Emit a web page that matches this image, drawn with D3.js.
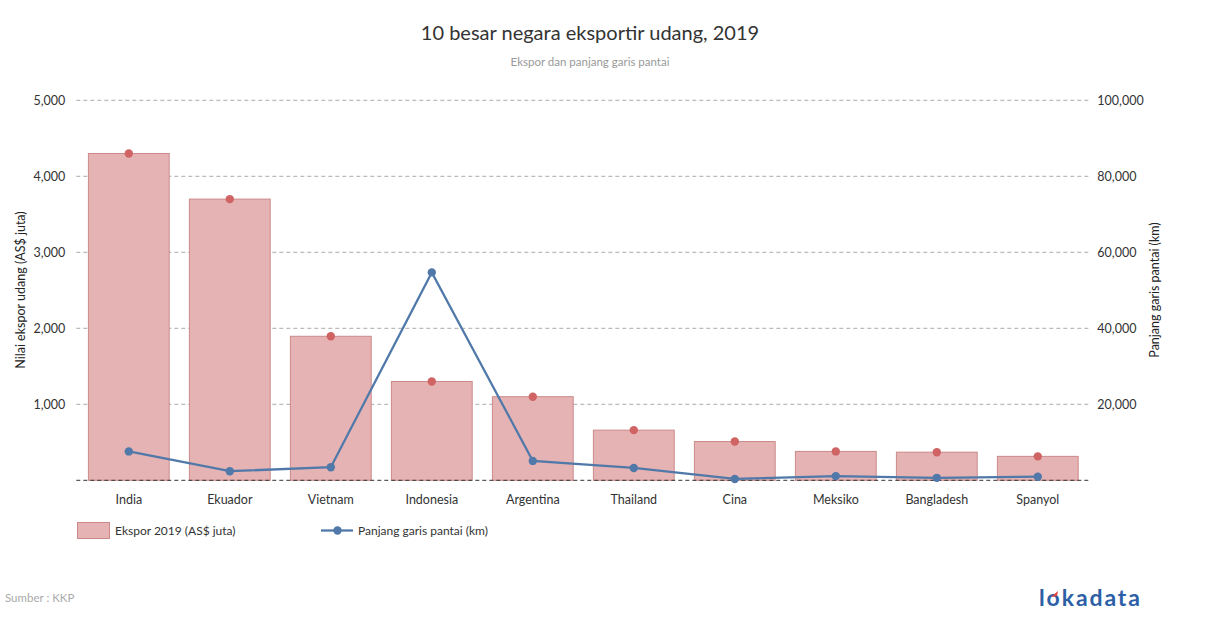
<!DOCTYPE html>
<html>
<head>
<meta charset="utf-8">
<script src="https://cdn.jsdelivr.net/npm/d3@7"></script>
<style>
  html, body { margin: 0; padding: 0; background: #fff; }
  svg { display: block; font-family: Lato, "Open Sans", sans-serif; }
</style>
</head>
<body>
<svg id="chart" width="1210" height="628"></svg>
<script>
const categories = ["India", "Ekuador", "Vietnam", "Indonesia", "Argentina", "Thailand", "Cina", "Meksiko", "Bangladesh", "Spanyol"];
const exportValues = [4300, 3700, 1895, 1300, 1100, 660, 510, 380, 370, 315];
const coastlineKm = [7600, 2400, 3444, 54716, 5100, 3250, 350, 1100, 650, 950];
const leftTicks = [1000, 2000, 3000, 4000, 5000];
const rightTicks = [20000, 40000, 60000, 80000, 100000];

const svg = d3.select("#chart");
const plot = { left: 78.3, right: 1088.3, top: 100.3, bottom: 480.3 };

const x = d3.scaleBand().domain(categories).range([plot.left, plot.right]).paddingInner(0.2).paddingOuter(0.1);
const yL = d3.scaleLinear().domain([0, 5000]).range([plot.bottom, plot.top]);
const yR = d3.scaleLinear().domain([0, 100000]).range([plot.bottom, plot.top]);
const fmt = d3.format(",");

// Title
svg.append("text").attr("x", 590).attr("y", 40).attr("text-anchor", "middle")
  .attr("font-size", 20).attr("fill", "#333").text("10 besar negara eksportir udang, 2019");
svg.append("text").attr("x", 590).attr("y", 66).attr("text-anchor", "middle")
  .attr("font-size", 11.5).attr("fill", "#999").text("Ekspor dan panjang garis pantai");

// Gridlines
const grid = svg.append("g");
leftTicks.forEach(t => {
  grid.append("line").attr("x1", plot.left - 2).attr("x2", plot.right)
    .attr("y1", yL(t)).attr("y2", yL(t))
    .attr("stroke", "#aaa").attr("stroke-width", 1).attr("stroke-dasharray", "4,3");
});

// Left axis
const axL = svg.append("g").attr("transform", `translate(${plot.left - 13},0)`)
  .call(d3.axisLeft(yL).tickValues(leftTicks).tickFormat(fmt).tickSize(0).tickPadding(0));
axL.select(".domain").remove();
axL.selectAll("text").attr("font-size", 12.5).attr("fill", "#333").attr("font-family", "Lato");

// Right axis
const axR = svg.append("g").attr("transform", `translate(${plot.right + 9},0)`)
  .call(d3.axisRight(yR).tickValues(rightTicks).tickFormat(fmt).tickSize(0).tickPadding(0));
axR.select(".domain").remove();
axR.selectAll("text").attr("font-size", 12.5).attr("fill", "#333").attr("font-family", "Lato");

// Axis titles
svg.append("text").attr("transform", `translate(25,290) rotate(-90)`).attr("text-anchor", "middle")
  .attr("font-size", 12.5).attr("fill", "#222").text("Nilai ekspor udang (AS$ juta)");
svg.append("text").attr("transform", `translate(1159,290) rotate(-90)`).attr("text-anchor", "middle")
  .attr("font-size", 12.5).attr("fill", "#222").text("Panjang garis pantai (km)");

// Bars
svg.append("g").selectAll("rect").data(categories).join("rect")
  .attr("x", d => x(d)).attr("width", x.bandwidth())
  .attr("y", (d, i) => yL(exportValues[i])).attr("height", (d, i) => plot.bottom - yL(exportValues[i]))
  .attr("fill", "#e5b3b3").attr("stroke", "#cb8989").attr("stroke-width", 1);

// Baseline
svg.append("line").attr("x1", plot.left - 2).attr("x2", plot.right).attr("y1", plot.bottom).attr("y2", plot.bottom)
  .attr("stroke", "#333").attr("stroke-width", 1).attr("stroke-dasharray", "4,3");

// X labels
const axX = svg.append("g").attr("transform", `translate(0,${plot.bottom + 15})`)
  .call(d3.axisBottom(x).tickSize(0).tickPadding(0));
axX.select(".domain").remove();
axX.selectAll("text").attr("font-size", 12.5).attr("fill", "#333").attr("font-family", "Lato");

// Red export markers
svg.append("g").selectAll("circle").data(categories).join("circle")
  .attr("cx", d => x(d) + x.bandwidth() / 2).attr("cy", (d, i) => yL(exportValues[i]))
  .attr("r", 4.2).attr("fill", "#d06363");

// Coastline line
const line = d3.line().x(d => x(d) + x.bandwidth() / 2).y((d, i) => yR(coastlineKm[i]));
svg.append("path").datum(categories).attr("d", line)
  .attr("fill", "none").attr("stroke", "#5079a9").attr("stroke-width", 2.3);
svg.append("g").selectAll("circle").data(categories).join("circle")
  .attr("cx", d => x(d) + x.bandwidth() / 2).attr("cy", (d, i) => yR(coastlineKm[i]))
  .attr("r", 4.2).attr("fill", "#5079a9");

// Legend
svg.append("rect").attr("x", 77.5).attr("y", 522.5).attr("width", 32).attr("height", 16)
  .attr("fill", "#e5b3b3").attr("stroke", "#cb8989");
svg.append("text").attr("x", 115).attr("y", 535).attr("font-size", 12).attr("fill", "#333")
  .text("Ekspor 2019 (AS$ juta)");
svg.append("line").attr("x1", 321).attr("x2", 353).attr("y1", 530.5).attr("y2", 530.5)
  .attr("stroke", "#5079a9").attr("stroke-width", 2.3);
svg.append("circle").attr("cx", 337.5).attr("cy", 530.5).attr("r", 4.2).attr("fill", "#5079a9");
svg.append("text").attr("x", 358).attr("y", 535).attr("font-size", 12).attr("fill", "#333")
  .text("Panjang garis pantai (km)");

// Source
svg.append("text").attr("x", 5).attr("y", 602).attr("font-size", 11.5).attr("fill", "#aaa").text("Sumber : KKP");

// Logo
const logo = svg.append("g");
logo.append("text").attr("x", 1039).attr("y", 606).attr("font-size", 23).attr("font-weight", "bold")
  .attr("fill", "#2d5fa6").attr("font-family", "Lato, sans-serif").attr("letter-spacing", 1.9).text("lokadata");
logo.append("path").attr("d", "M1051,597 l7,-6 l-1,5 z").attr("fill", "#e2403a");
</script>
</body>
</html>
